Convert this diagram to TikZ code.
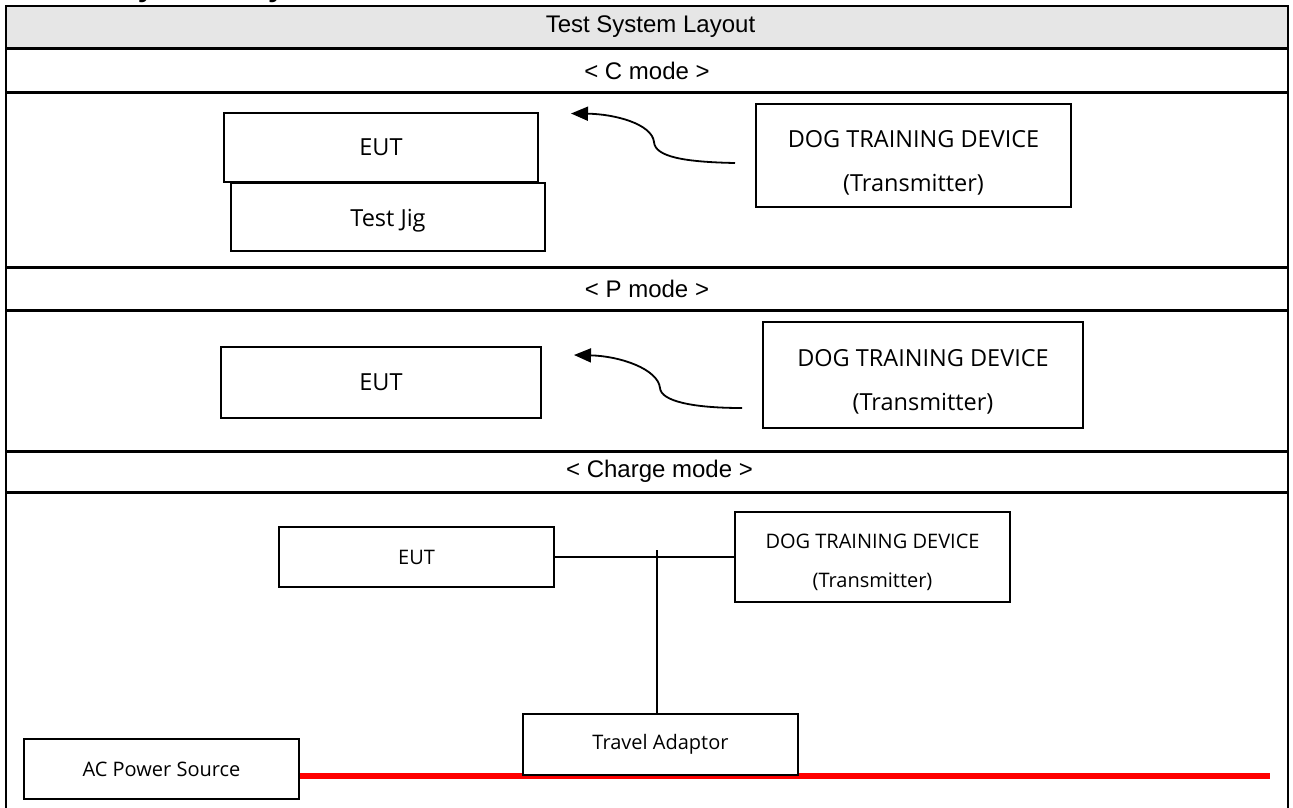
\documentclass[tikz,border=0pt]{standalone}
\usepackage{fontspec}
\setmainfont{Liberation Sans}
\newfontfamily\boxfont{Open Sans}
\usetikzlibrary{arrows.meta}
\definecolor{hdrgray}{HTML}{E6E6E6}
\newcommand{\downstrut}[1]{\rule{0pt}{#1}}
\begin{document}
\begin{tikzpicture}[x=1pt,y=-1pt,
  rowline/.style={line width=3pt},
  frameline/.style={line width=2pt},
  rowlabel/.style={inner sep=0pt, font=\fontsize{24}{28}\selectfont},
  bigbox/.style={draw, line width=1.6pt, fill=white, inner sep=0pt, align=center,
    font=\boxfont\fontsize{23.5}{44}\selectfont},
  smallbox/.style={draw, line width=1.6pt, fill=white, inner sep=0pt, align=center,
    font=\boxfont\fontsize{20}{39}\selectfont},
  wave/.style={line width=1.8pt, -{Triangle[length=17pt,width=14pt]}},
  wire/.style={line width=1.4pt}
]
\useasboundingbox (0,0) rectangle (1293,807);

% cut-off heading above the table
\begin{scope}
  \clip (0,0) rectangle (1293,807);
  \node[anchor=base west, inner sep=0pt, font=\bfseries\fontsize{30}{36}\selectfont] (heading) at (50,-3.5) {Test System Layout};
\end{scope}

% table
\fill[hdrgray] (6,6) rectangle (1288,48);
\draw[frameline] (6,812) -- (6,6) -- (1288,6) -- (1288,812);
\draw[rowline] (6,48.5) -- (1288,48.5);
\draw[rowline] (6,92) -- (1288,92);
\draw[rowline] (6,267.5) -- (1288,267.5);
\draw[rowline] (6,310) -- (1288,310);
\draw[rowline] (6,451) -- (1288,451);
\draw[rowline] (6,492) -- (1288,492);

\node[rowlabel] (title) at (650.5,27) {Test System Layout};
\node[rowlabel] (cmode) at (647,71) {< C mode >};
\node[rowlabel] (pmode) at (647,289) {< P mode >};
\node[rowlabel] (chmode) at (659.5,471) {< Charge mode >};

% C mode
\node[bigbox, minimum width=314pt, minimum height=68pt] (jig) at (388,217) {\downstrut{24pt}Test Jig};
\node[bigbox, minimum width=314pt, minimum height=69pt] (eutc) at (381,147.5) {EUT};
\node[bigbox, minimum width=315pt, minimum height=103pt] (dogc) at (913.5,155.5) {\downstrut{31pt}DOG TRAINING DEVICE\\(Transmitter)};
\coordinate (cstart) at (735,163);
\coordinate (ctip) at (571,113.5);
\draw[wave] (cstart) .. controls (685,162) and (655,157) .. (654,142)
  .. controls (652,124) and (615,114) .. (ctip);

% P mode
\node[bigbox, minimum width=320pt, minimum height=71pt] (eutp) at (381,382.5) {EUT};
\node[bigbox, minimum width=320pt, minimum height=106pt] (dogp) at (923,375) {\downstrut{30pt}DOG TRAINING DEVICE\\(Transmitter)};
\coordinate (pstart) at (742,408);
\coordinate (ptip) at (574,355);
\draw[wave] (pstart) .. controls (692,408) and (661,401) .. (660,388)
  .. controls (658,369) and (620,356) .. (ptip);

% Charge mode
\coordinate (redend) at (1270,776);
\node[smallbox, minimum width=275pt, minimum height=60pt] (eutch) at (416.5,557) {EUT};
\node[smallbox, minimum width=275pt, minimum height=90pt] (dogch) at (872.5,557) {\downstrut{26pt}DOG TRAINING DEVICE\\(Transmitter)};
\node[smallbox, minimum width=275pt, minimum height=60pt] (ac) at (161.5,769) {AC Power Source};
\draw[red, line width=6pt] (redend -| ac.east) -- (redend);
\node[smallbox, minimum width=275pt, minimum height=61pt] (ta) at (660.5,744.5) {Travel Adaptor};
\coordinate (junction) at (657,550);
\draw[wire] (eutch.east) -- (dogch.west);
\draw[wire] (junction) -- (junction |- ta.north);
\end{tikzpicture}
\end{document}
